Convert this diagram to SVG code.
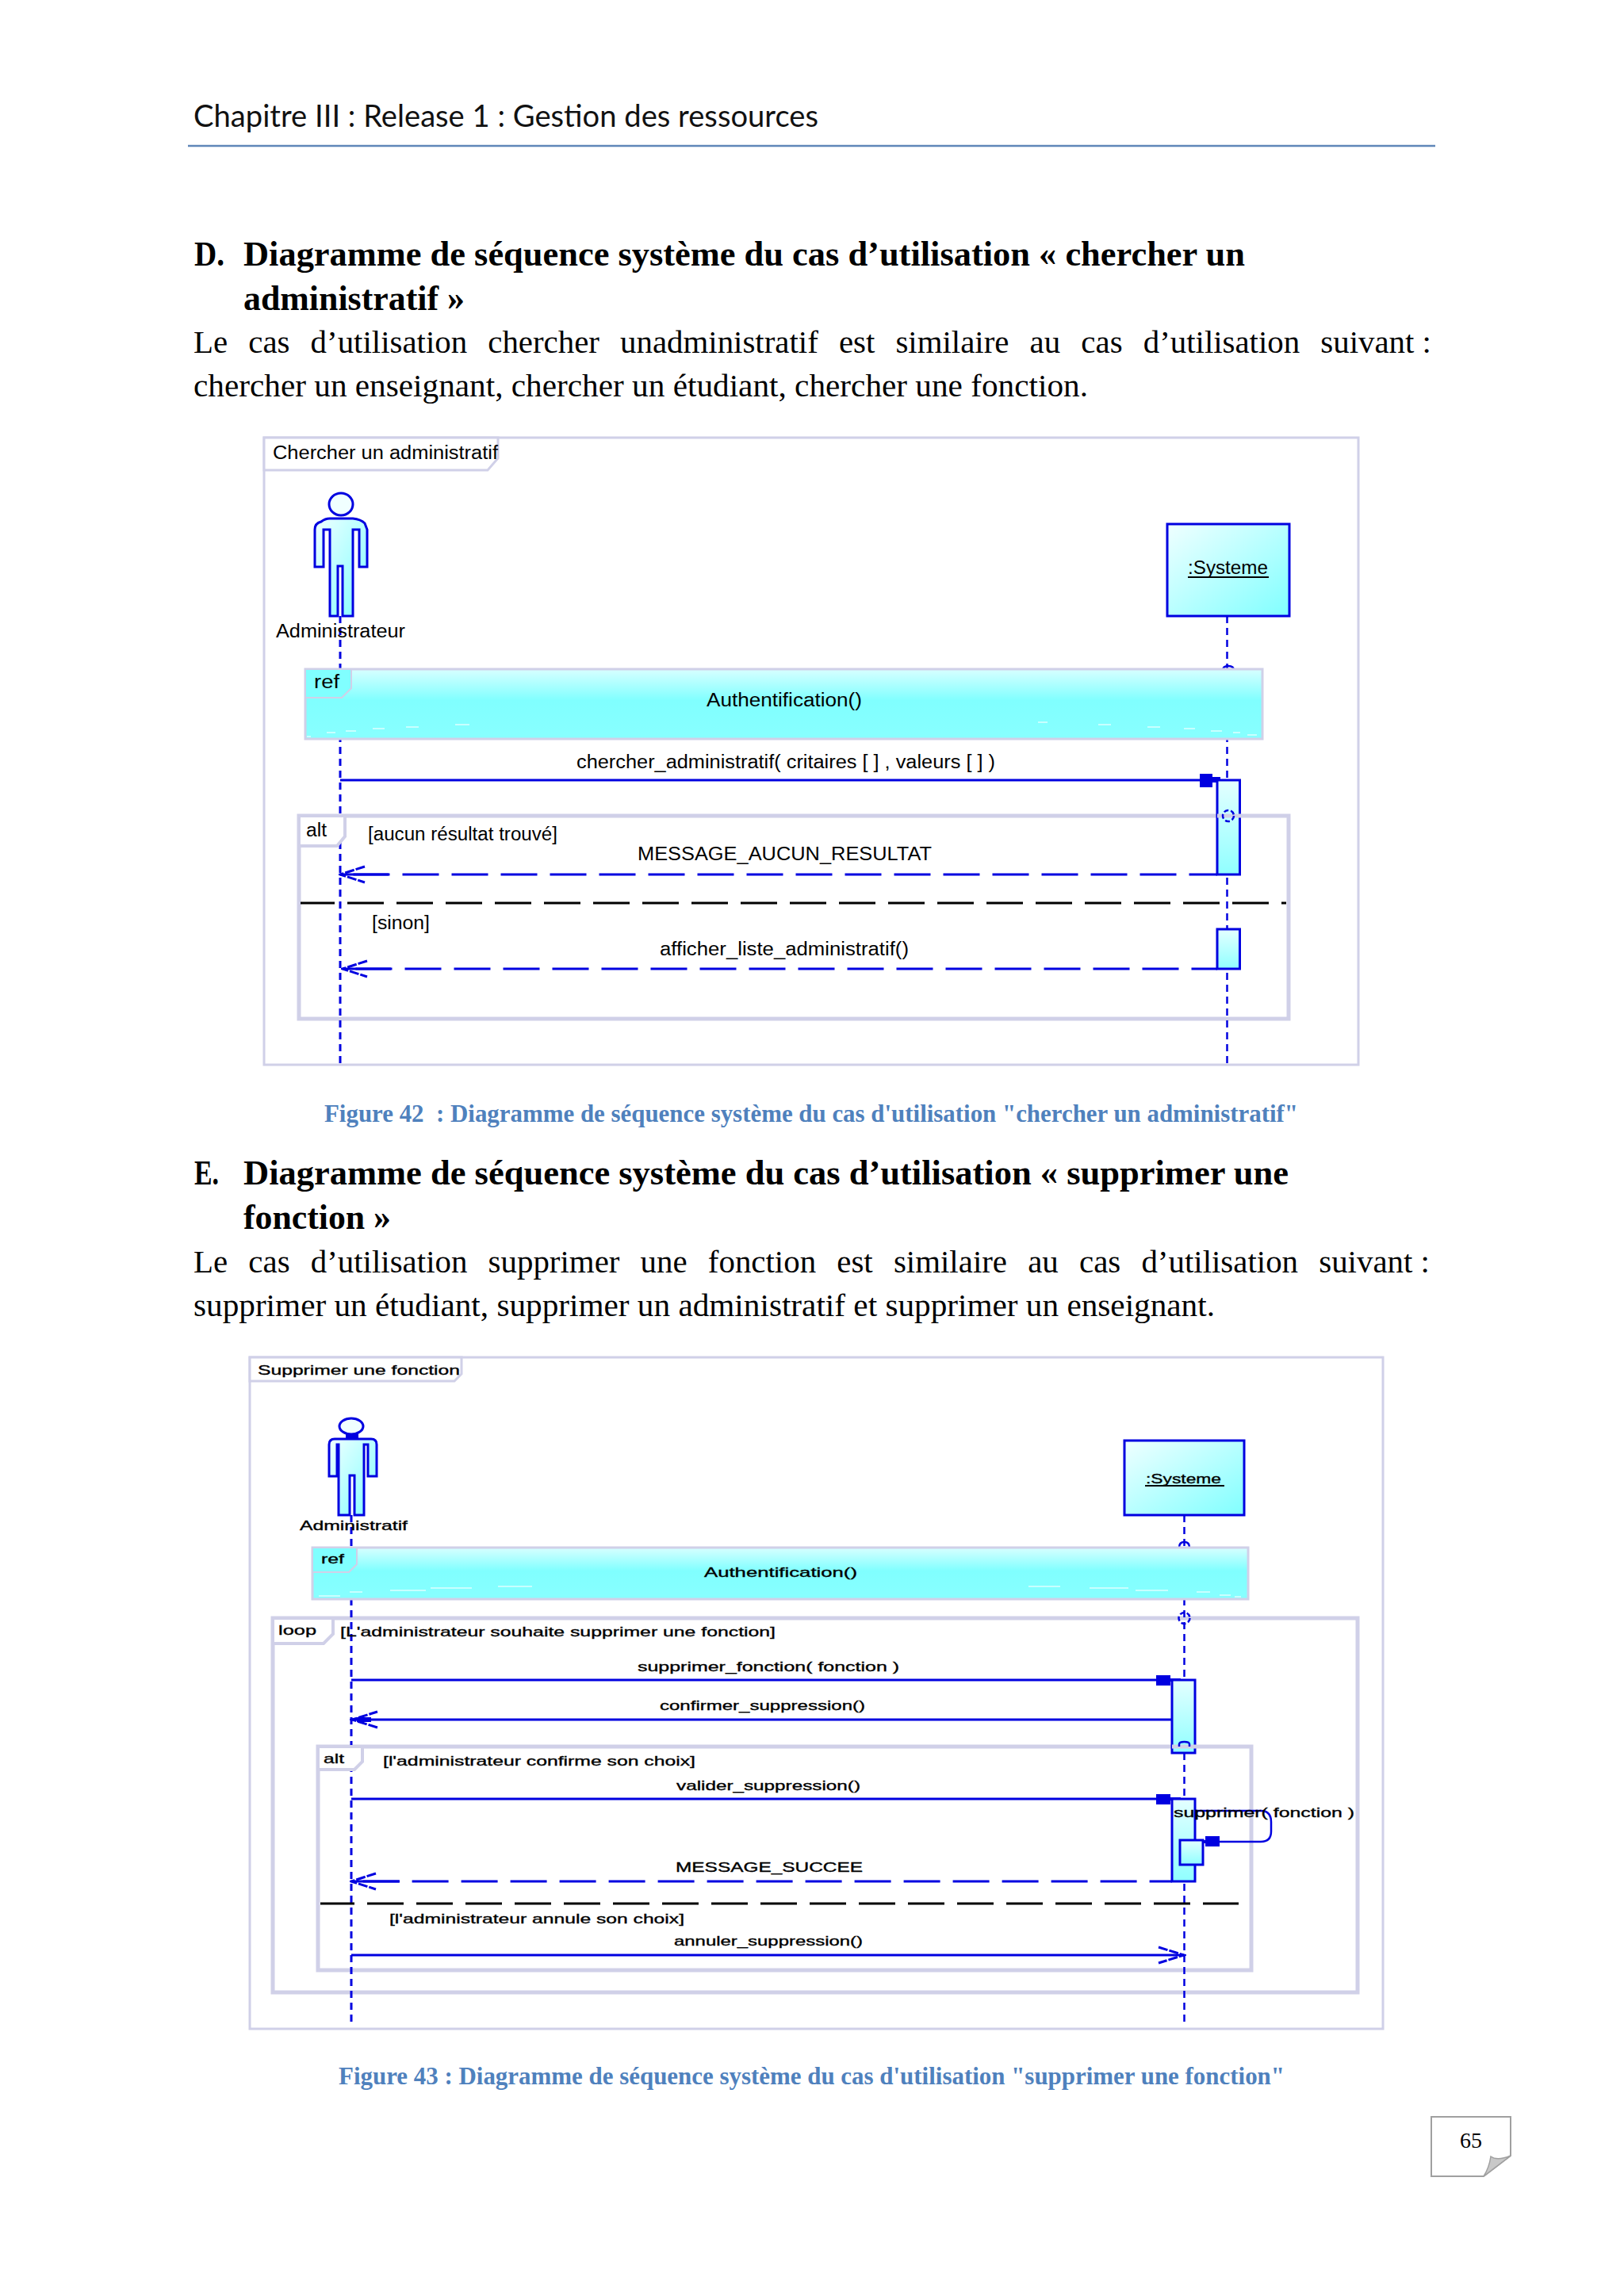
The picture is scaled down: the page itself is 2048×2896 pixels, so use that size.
<svg xmlns="http://www.w3.org/2000/svg" width="2048" height="2896" viewBox="0 0 2048 2896">
<style>
.hd{font-family:"Lato","Open Sans",sans-serif;font-size:38px;fill:#111}
.h{font-family:"Liberation Serif",serif;font-weight:bold;font-size:44px;fill:#000}
.b{font-family:"Liberation Serif",serif;font-size:41px;fill:#000}
.cap{font-family:"Liberation Serif",serif;font-weight:bold;font-size:31px;fill:#4f81bd}
.a{font-family:"Liberation Sans",Arial,sans-serif;font-size:23px;fill:#000}
.c{font-family:"Liberation Sans",Arial,sans-serif;font-size:17px;fill:#000;stroke:#000;stroke-width:.35}
.frame{fill:none;stroke:#d0d0e8;stroke-width:3}
.frag{fill:none;stroke:#d0d0e8;stroke-width:5}
.tab{fill:#fff;stroke:#d0d0e8;stroke-width:4}
.refbox{fill:url(#refg);stroke:#d0d0e8;stroke-width:3}
.reftab{fill:#80ffff;stroke:#d0d0e8;stroke-width:2}
.ent{fill:url(#entg);stroke:#0000e0;stroke-width:3}
.act{fill:url(#actg);stroke:#0000e0;stroke-width:3}
.life{fill:none;stroke:#0000e0;stroke-width:3;stroke-dasharray:9 6}
.life2{fill:none;stroke:#0000e0;stroke-width:2.5;stroke-dasharray:9 6}
.msg{fill:none;stroke:#0000e0;stroke-width:3}
.ret{fill:none;stroke:#0000e0;stroke-width:3;stroke-dasharray:46 16}
.sep{fill:none;stroke:#000;stroke-width:3;stroke-dasharray:46 16}
.ul{stroke:#000;stroke-width:2}
.streak{stroke:#fff;stroke-width:2;opacity:.55}
.ring{fill:none;stroke:#0000e0;stroke-width:2.5;stroke-dasharray:6 3}
</style>
<defs>
<linearGradient id="refg" x1="0" y1="0" x2="0" y2="1"><stop offset="0" stop-color="#d8ffff"/><stop offset=".45" stop-color="#80ffff"/><stop offset="1" stop-color="#88ffff"/></linearGradient>
<linearGradient id="entg" x1="0" y1="0" x2="1" y2="1"><stop offset="0" stop-color="#f0ffff"/><stop offset="1" stop-color="#80ffff"/></linearGradient>
<linearGradient id="actg" x1="0" y1="0" x2="0" y2="1"><stop offset="0" stop-color="#e4ffff"/><stop offset="1" stop-color="#90ffff"/></linearGradient>
<marker id="block" markerUnits="userSpaceOnUse" markerWidth="30" markerHeight="18" viewBox="0 0 30 18" refX="22" refY="8" orient="auto"><path d="M0 0H16V4H26V11H16V17H0Z" fill="#0000e0"/></marker>
<marker id="block2" markerUnits="userSpaceOnUse" markerWidth="32" markerHeight="14" viewBox="0 0 32 14" refX="20" refY="6" orient="auto"><path d="M0 0H18V4H31V8H18V13H0Z" fill="#0000e0"/></marker>
<marker id="open" markerUnits="userSpaceOnUse" markerWidth="36" markerHeight="26" viewBox="0 0 36 26" refX="33" refY="13" orient="auto"><path d="M1 3L33 13L1 23" fill="none" stroke="#0000e0" stroke-width="3" stroke-dasharray="12 2"/></marker>
<marker id="openback" markerUnits="userSpaceOnUse" markerWidth="70" markerHeight="26" viewBox="0 0 70 26" refX="2" refY="13" orient="0"><path d="M33 3L2 13L33 23" fill="none" stroke="#0000e0" stroke-width="3" stroke-dasharray="12 2"/><path d="M2 13H63" stroke="#0000e0" stroke-width="3"/></marker>
</defs>
<rect width="2048" height="2896" fill="#fff"/>

<g id="page-text">
<text class="hd" x="244" y="160" textLength="788" lengthAdjust="spacingAndGlyphs">Chapitre III : Release 1 : Gestion des ressources</text>
<line x1="237" y1="184" x2="1810" y2="184" stroke="#5f86b8" stroke-width="2.5"/>
<text class="h" x="245" y="335" textLength="38" lengthAdjust="spacingAndGlyphs">D.</text>
<text class="h" x="307" y="335" textLength="1263" lengthAdjust="spacingAndGlyphs">Diagramme de séquence système du cas d’utilisation « chercher un</text>
<text class="h" x="307" y="391" textLength="279" lengthAdjust="spacingAndGlyphs">administratif »</text>
<text class="b" x="244" y="445" word-spacing="16" textLength="1561" lengthAdjust="spacingAndGlyphs">Le cas d’utilisation chercher unadministratif est similaire au cas d’utilisation suivant<tspan word-spacing="0"> :</tspan></text>
<text class="b" x="244" y="500" textLength="1128" lengthAdjust="spacingAndGlyphs">chercher un enseignant, chercher un étudiant, chercher une fonction.</text>
<text class="cap" x="409" y="1415" textLength="1228" lengthAdjust="spacingAndGlyphs">Figure 42 &#160;: Diagramme de séquence système du cas d'utilisation "chercher un administratif"</text>
<text class="h" x="245" y="1494" textLength="31" lengthAdjust="spacingAndGlyphs">E.</text>
<text class="h" x="307" y="1494" textLength="1318" lengthAdjust="spacingAndGlyphs">Diagramme de séquence système du cas d’utilisation « supprimer une</text>
<text class="h" x="307" y="1550" textLength="186" lengthAdjust="spacingAndGlyphs">fonction »</text>
<text class="b" x="244" y="1605" word-spacing="16" textLength="1559" lengthAdjust="spacingAndGlyphs">Le cas d’utilisation supprimer une fonction est similaire au cas d’utilisation suivant<tspan word-spacing="0"> :</tspan></text>
<text class="b" x="244" y="1660" textLength="1288" lengthAdjust="spacingAndGlyphs">supprimer un étudiant, supprimer un administratif et supprimer un enseignant.</text>
<text class="cap" x="427" y="2629" textLength="1193" lengthAdjust="spacingAndGlyphs">Figure 43 : Diagramme de séquence système du cas d'utilisation "supprimer une fonction"</text>
</g>

<g id="page-number">
<path d="M1805 2670H1905V2719L1871 2745H1805Z" fill="#fff" stroke="#a0a0a0" stroke-width="2"/>
<path d="M1905 2719Q1888 2726 1880 2720Q1878 2734 1871 2745Z" fill="#c8c8c8" stroke="#a0a0a0" stroke-width="1.5"/>
<text x="1855" y="2709" text-anchor="middle" font-family="Liberation Serif, serif" font-size="28" fill="#000">65</text>
</g>

<!-- Figure 42 -->
<g id="fig42-frame">
<rect class="frame" x="333" y="552" width="1380" height="791"/>
<path class="tab" style="stroke-width:3" d="M333 552H628V578L615 593H333Z"/>
<text class="a" x="344" y="579" textLength="284" lengthAdjust="spacingAndGlyphs">Chercher un administratif</text>
</g>
<g id="fig42-alt-frame"><rect class="frag" x="377" y="1029" width="1248" height="256"/></g>

<g id="fig42-connectors">
<line class="life" x1="429" y1="777" x2="429" y2="1343"/>
<line class="life2" x1="1547.5" y1="777" x2="1547.5" y2="1343"/>
<path class="msg" style="stroke-width:2.5" d="M1542 846Q1542 840 1549 840Q1556 840 1556 846"/>
<line class="msg" x1="429" y1="984" x2="1535" y2="984" marker-end="url(#block)"/>
<text class="a" x="727" y="969" textLength="528" lengthAdjust="spacingAndGlyphs">chercher_administratif( critaires [ ] , valeurs [ ] )</text>
<line class="ret" x1="429" y1="1103" x2="1535" y2="1103" stroke-dashoffset="45.5" marker-start="url(#openback)"/>
<text class="a" x="804" y="1085" textLength="371" lengthAdjust="spacingAndGlyphs">MESSAGE_AUCUN_RESULTAT</text>
<line class="sep" x1="379" y1="1139" x2="1622" y2="1139" stroke-dashoffset="3"/>
<line class="ret" x1="432" y1="1222" x2="1535" y2="1222" stroke-dashoffset="45.5" marker-start="url(#openback)"/>
<text class="a" x="832" y="1205" textLength="314" lengthAdjust="spacingAndGlyphs">afficher_liste_administratif()</text>
</g>

<g id="fig42-actor">
<ellipse cx="430" cy="636" rx="15" ry="14" fill="#f0ffff" stroke="#0000e0" stroke-width="3"/>
<path class="ent" d="M397 715V668Q397 660 405 658Q410 654 416 654H445Q455 655 460 660L463 668V715H453V668H445V777H432V714H426V777H416V668H408V715Z"/>
<text class="a" x="348" y="804" textLength="163" lengthAdjust="spacingAndGlyphs">Administrateur</text>
</g>
<g id="fig42-system">
<rect class="ent" x="1472" y="661" width="154" height="116"/>
<text class="a" x="1498" y="724" textLength="101" lengthAdjust="spacingAndGlyphs">:Systeme</text>
<line class="ul" x1="1498" y1="728" x2="1600" y2="728"/>
</g>
<g id="fig42-ref">
<rect class="refbox" x="385" y="844" width="1207" height="88"/>
<path class="reftab" d="M385 844H443V868L431 880H385Z"/>
<text class="a" x="396" y="868" textLength="32" lengthAdjust="spacingAndGlyphs">ref</text>
<text class="a" x="891" y="891" textLength="196" lengthAdjust="spacingAndGlyphs">Authentification()</text>
<path class="streak" d="M387 929H392M412 924H423M436 922H449M470 919H485M512 917H528M574 914H592M1309 911H1321M1385 914H1401M1447 917H1463M1493 919H1507M1527 922H1541M1555 924H1564M1573 927H1585"/>
</g>
<g id="fig42-alt-tab">
<path class="tab" d="M377 1029H435V1055L425 1067H377Z"/>
<text class="a" x="386" y="1055" textLength="26" lengthAdjust="spacingAndGlyphs">alt</text>
<text class="a" x="464" y="1060" textLength="239" lengthAdjust="spacingAndGlyphs">[aucun résultat trouvé]</text>
<text class="a" x="469" y="1172" textLength="73" lengthAdjust="spacingAndGlyphs">[sinon]</text>
</g>
<g id="fig42-activation-1">
<rect class="act" x="1535" y="984" width="28.5" height="119"/>
<line x1="1535" y1="1029" x2="1565" y2="1029" stroke="#d0d0e8" stroke-width="5"/>
<circle class="ring" cx="1549" cy="1029" r="7"/>
</g>
<g id="fig42-activation-2"><rect class="act" x="1535" y="1172" width="28.5" height="50"/></g>

<!-- Figure 43 -->
<g id="fig43-frame">
<rect class="frame" x="315" y="1712" width="1429" height="847"/>
<path class="tab" style="stroke-width:3" d="M315 1712H582V1733L573 1742H315Z"/>
<text class="c" x="325" y="1734" textLength="255" lengthAdjust="spacingAndGlyphs">Supprimer une fonction</text>
</g>
<g id="fig43-loop-frame"><rect class="frag" x="344" y="2041" width="1368" height="472"/></g>
<g id="fig43-alt-frame"><rect class="frag" x="401" y="2203" width="1177" height="282"/></g>

<g id="fig43-connectors">
<line class="life" x1="443" y1="1911" x2="443" y2="2552"/>
<line class="life2" x1="1493.5" y1="1911" x2="1493.5" y2="2552"/>
<path class="msg" style="stroke-width:2.5" d="M1487 1952Q1487 1945 1493.5 1945Q1500 1945 1500 1952"/>
<line class="msg" x1="443" y1="2119" x2="1478" y2="2119" marker-end="url(#block2)"/>
<text class="c" x="804" y="2108" textLength="330" lengthAdjust="spacingAndGlyphs">supprimer_fonction( fonction )</text>
<line class="msg" x1="1478" y1="2169" x2="444" y2="2169" marker-end="url(#open)"/>
<line x1="450" y1="2169" x2="468" y2="2169" stroke="#0000e0" stroke-width="6"/>
<text class="c" x="832" y="2157" textLength="259" lengthAdjust="spacingAndGlyphs">confirmer_suppression()</text>
<line class="msg" x1="443" y1="2269" x2="1478" y2="2269" marker-end="url(#block2)"/>
<text class="c" x="853" y="2258" textLength="232" lengthAdjust="spacingAndGlyphs">valider_suppression()</text>
<line class="ret" x1="443" y1="2373" x2="1478" y2="2373" stroke-dashoffset="47.4" marker-start="url(#openback)"/>
<text class="c" x="852" y="2361" textLength="236" lengthAdjust="spacingAndGlyphs">MESSAGE_SUCCEE</text>
<line class="sep" x1="404" y1="2401" x2="1562" y2="2401" stroke-dashoffset="3"/>
<line class="msg" x1="443" y1="2466" x2="1493" y2="2466" marker-end="url(#open)"/>
<text class="c" x="850" y="2454" textLength="238" lengthAdjust="spacingAndGlyphs">annuler_suppression()</text>
</g>

<g id="fig43-actor">
<ellipse cx="443" cy="1799" rx="15" ry="10" fill="#f0ffff" stroke="#0000e0" stroke-width="3"/>
<rect x="436" y="1808" width="16" height="7" fill="#0000e0"/>
<path class="ent" d="M415 1862V1822Q415 1815 422 1815H468Q475 1815 475 1822V1862H464V1822H459V1911H447V1861H441V1911H427V1822H425V1862Z"/>
<text class="c" x="378" y="1930" textLength="136" lengthAdjust="spacingAndGlyphs">Administratif</text>
</g>
<g id="fig43-system">
<rect class="ent" x="1418" y="1817" width="151" height="94"/>
<text class="c" x="1445" y="1871" textLength="95" lengthAdjust="spacingAndGlyphs">:Systeme</text>
<line class="ul" x1="1444" y1="1874" x2="1544" y2="1874"/>
</g>
<g id="fig43-ref">
<rect class="refbox" x="394" y="1952" width="1180" height="65"/>
<path class="reftab" d="M394 1952H450V1973L440 1983H394Z"/>
<text class="c" x="405" y="1972" textLength="29" lengthAdjust="spacingAndGlyphs">ref</text>
<text class="c" x="888" y="1989" textLength="193" lengthAdjust="spacingAndGlyphs">Authentification()</text>
<path class="streak" d="M402 2013H429M441 2008H457M492 2006H537M543 2003H595M628 2001H671M1297 2001H1337M1374 2003H1423M1432 2006H1473M1509 2008H1526M1538 2012H1552M1557 2014H1565"/>
</g>
<g id="fig43-loop-tab">
<path class="tab" d="M344 2041H420V2061L408 2073H344Z"/>
<text class="c" x="351" y="2062" textLength="48" lengthAdjust="spacingAndGlyphs">loop</text>
<text class="c" x="429" y="2064" textLength="549" lengthAdjust="spacingAndGlyphs">[L'administrateur souhaite supprimer une fonction]</text>
<circle class="ring" cx="1493.5" cy="2041" r="7"/>
</g>
<g id="fig43-activation-1">
<rect class="act" x="1478" y="2119" width="29" height="92"/>
<line x1="1478" y1="2203" x2="1509" y2="2203" stroke="#d0d0e8" stroke-width="5"/>
<path class="msg" style="stroke-width:2.5" d="M1487 2203V2200Q1487 2197 1493.5 2197Q1500 2197 1500 2200V2203"/>
</g>
<g id="fig43-alt-tab">
<path class="tab" d="M401 2203H457V2222L447 2232H401Z"/>
<text class="c" x="408" y="2224" textLength="26" lengthAdjust="spacingAndGlyphs">alt</text>
<text class="c" x="483" y="2227" textLength="394" lengthAdjust="spacingAndGlyphs">[l'administrateur confirme son choix]</text>
<text class="c" x="491" y="2426" textLength="372" lengthAdjust="spacingAndGlyphs">[l'administrateur annule son choix]</text>
</g>
<g id="fig43-activation-2"><rect class="act" x="1478" y="2269" width="29" height="104"/></g>
<g id="fig43-self-message">
<path class="msg" style="stroke-width:2.5" d="M1507 2284H1590Q1603 2284 1603 2298V2310Q1603 2323 1590 2323H1518" marker-end="url(#block2)"/>
<text class="c" x="1480" y="2292" textLength="228" lengthAdjust="spacingAndGlyphs">supprimer( fonction )</text>
</g>
<g id="fig43-activation-3"><rect class="act" x="1488" y="2321" width="29" height="31"/></g>
</svg>
